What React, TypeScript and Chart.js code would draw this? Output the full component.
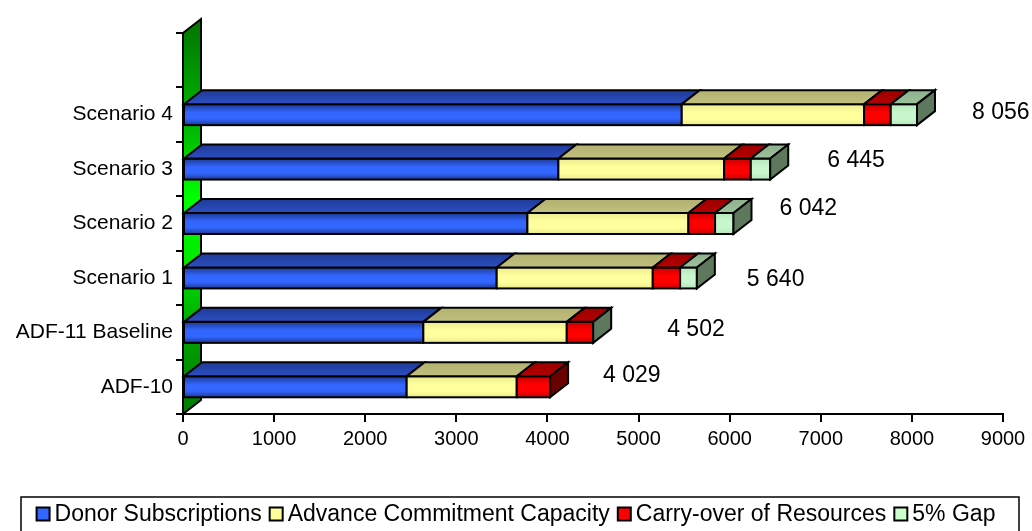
import React, { useEffect, useRef } from 'react';
import { Chart, registerables } from 'chart.js';

Chart.register(...registerables);

// ---------- data (top-to-bottom order of the chart) ----------
const categories = ['Scenario 4', 'Scenario 3', 'Scenario 2', 'Scenario 1', 'ADF-11 Baseline', 'ADF-10'];
const donorSubscriptions = [5474, 4120, 3780, 3443, 2638, 2455];
const advanceCommitmentCapacity = [2001, 1819, 1767, 1713, 1574, 1208];
const carryOverOfResources = [293, 293, 293, 300, 290, 366];
const fivePercentGap: (number | null)[] = [288, 213, 202, 184, 0, null];
const seriesNames = ['Donor Subscriptions', 'Advance Commitment Capacity', 'Carry-over of Resources', '5% Gap'];
const xMin = 0;
const xMax = 9000;
const xStep = 1000;

// ---------- styling ----------
const FONT = '"Liberation Sans", Arial, sans-serif';
const DX = 18;
const DY = 14;
// label nudges (px) for the total labels, relative to the end of each bar / slot centre
const totalLabelNudge: [number, number][] = [[55, -2], [57, -8], [46, -15], [50, 2], [74, -3], [53, -11]];

type Style3D = { edge: string; mid: string; top: [string, string]; side: string; legend: string };
const seriesStyles: Style3D[] = [
  { edge: '#1c3994', mid: '#3366ff', top: ['#1f3b98', '#2c4fc2'], side: '#1a2f7a', legend: '#3366ff' },
  { edge: '#ecea8c', mid: '#ffff9e', top: ['#b3b170', '#c2c07e'], side: '#8f8d55', legend: '#ffff99' },
  { edge: '#c80000', mid: '#ff0000', top: ['#9c0000', '#b40000'], side: '#6b0000', legend: '#ff0000' },
  { edge: '#b5e6bb', mid: '#c9f7cd', top: ['#8cb08c', '#9cc29c'], side: '#5e785e', legend: '#ccffcc' },
];

const seriesData = [donorSubscriptions, advanceCommitmentCapacity, carryOverOfResources, fivePercentGap];

function formatTotal(v: number): string {
  const s = String(Math.round(v));
  return s.replace(/\B(?=(\d{3})+(?!\d))/g, ' ');
}

const wallPlugin = {
  id: 'wall3d',
  beforeDatasetsDraw(chart: any) {
    const { ctx, chartArea } = chart;
    const l = chartArea.left, t = chartArea.top, b = chartArea.bottom;
    ctx.save();
    const g = ctx.createLinearGradient(0, t - DY, 0, b);
    g.addColorStop(0, '#007400');
    g.addColorStop(0.3, '#00c000');
    g.addColorStop(0.45, '#00ff00');
    g.addColorStop(0.6, '#00ec00');
    g.addColorStop(0.8, '#00a000');
    g.addColorStop(1, '#007c00');
    ctx.beginPath();
    ctx.moveTo(l, t);
    ctx.lineTo(l + DX, t - DY);
    ctx.lineTo(l + DX, b - DY);
    ctx.lineTo(l, b);
    ctx.closePath();
    ctx.fillStyle = g;
    ctx.fill();
    ctx.lineWidth = 2;
    ctx.strokeStyle = '#000';
    ctx.lineJoin = 'miter';
    ctx.stroke();
    ctx.restore();
  },
};

const bars3dPlugin = {
  id: 'bars3d',
  afterDatasetsDraw(chart: any) {
    const ctx = chart.ctx;
    const n = chart.data.labels.length;
    ctx.save();
    ctx.lineWidth = 2;
    ctx.strokeStyle = '#000';
    ctx.lineJoin = 'miter';
    for (let j = 0; j < n; j++) {
      const segs: any[] = [];
      chart.data.datasets.forEach((ds: any, di: number) => {
        const v = ds.data[j];
        if (v === null || v === undefined) return;
        const el = chart.getDatasetMeta(di).data[j];
        if (!el) return;
        const p = el.getProps(['x', 'y', 'base', 'height'], true);
        segs.push({
          di,
          x0: Math.min(p.base, p.x),
          x1: Math.max(p.base, p.x),
          top: p.y - p.height / 2,
          bottom: p.y + p.height / 2,
        });
      });
      if (!segs.length) continue;
      // front faces
      segs.forEach((s) => {
        if (s.x1 - s.x0 < 0.5) return;
        const st = seriesStyles[s.di];
        const g = ctx.createLinearGradient(0, s.top, 0, s.bottom);
        g.addColorStop(0, st.edge);
        g.addColorStop(0.4, st.mid);
        g.addColorStop(0.7, st.mid);
        g.addColorStop(1, st.edge);
        ctx.fillStyle = g;
        ctx.fillRect(s.x0, s.top, s.x1 - s.x0, s.bottom - s.top);
        ctx.strokeRect(s.x0, s.top, s.x1 - s.x0, s.bottom - s.top);
      });
      // top faces
      segs.forEach((s) => {
        if (s.x1 - s.x0 < 0.5) return;
        const st = seriesStyles[s.di];
        const g = ctx.createLinearGradient(0, s.top - DY, 0, s.top);
        g.addColorStop(0, st.top[0]);
        g.addColorStop(1, st.top[1]);
        ctx.beginPath();
        ctx.moveTo(s.x0, s.top);
        ctx.lineTo(s.x1, s.top);
        ctx.lineTo(s.x1 + DX, s.top - DY);
        ctx.lineTo(s.x0 + DX, s.top - DY);
        ctx.closePath();
        ctx.fillStyle = g;
        ctx.fill();
        ctx.stroke();
      });
      // right side face of the last segment
      const last = segs[segs.length - 1];
      const ss = seriesStyles[last.di];
      ctx.beginPath();
      ctx.moveTo(last.x1, last.top);
      ctx.lineTo(last.x1 + DX, last.top - DY);
      ctx.lineTo(last.x1 + DX, last.bottom - DY);
      ctx.lineTo(last.x1, last.bottom);
      ctx.closePath();
      ctx.fillStyle = ss.side;
      ctx.fill();
      ctx.stroke();
    }
    ctx.restore();
  },
};

const labelsLegendPlugin = {
  id: 'labelsLegend',
  afterDraw(chart: any) {
    const ctx = chart.ctx;
    const xs = chart.scales.x;
    const ys = chart.scales.y;
    ctx.save();
    // totals
    ctx.font = `23px ${FONT}`;
    ctx.fillStyle = '#000';
    ctx.textAlign = 'left';
    ctx.textBaseline = 'middle';
    categories.forEach((_, i) => {
      const total = seriesData.reduce((acc, arr) => acc + (arr[i] ?? 0), 0);
      const xp = xs.getPixelForValue(total);
      const yp = ys.getPixelForValue(i + 1);
      const [dx, dy] = totalLabelNudge[i];
      ctx.fillText(formatTotal(total), xp + dx, yp + dy);
    });
    // legend
    const W = chart.width;
    ctx.font = `23px ${FONT}`;
    const box = 13;
    const boxGap = 5;
    const itemGap = 8;
    const widths = seriesNames.map((s) => ctx.measureText(s).width);
    const total = widths.reduce((a, w) => a + box + boxGap + w, 0) + itemGap * (seriesNames.length - 1);
    let x = W / 2 - total / 2;
    const cy = 514;
    ctx.lineWidth = 1.5;
    ctx.strokeStyle = '#000';
    ctx.strokeRect(21, 497, 998, 50);
    seriesNames.forEach((name, i) => {
      ctx.fillStyle = seriesStyles[i].legend;
      ctx.fillRect(x, cy - box / 2, box, box);
      ctx.lineWidth = 2;
      ctx.strokeRect(x, cy - box / 2, box, box);
      ctx.fillStyle = '#000';
      ctx.fillText(name, x + box + boxGap, cy + 1);
      x += box + boxGap + widths[i] + itemGap;
    });
    ctx.restore();
  },
};

export default function App() {
  const canvasRef = useRef<HTMLCanvasElement | null>(null);

  useEffect(() => {
    const canvas = canvasRef.current;
    if (!canvas) return;
    const labels = ['', ...categories];
    const datasets = seriesData.map((arr, i) => ({
      label: seriesNames[i],
      data: [null, ...arr],
      backgroundColor: 'rgba(0,0,0,0)',
      borderWidth: 0,
      barPercentage: 0.386,
      categoryPercentage: 1,
      stack: 'total',
    }));
    const chart = new Chart(canvas, {
      type: 'bar',
      data: { labels, datasets },
      options: {
        indexAxis: 'y',
        animation: false,
        responsive: false,
        devicePixelRatio: 1,
        layout: { padding: { left: 0, right: 29, top: 33, bottom: 77 } },
        plugins: { legend: { display: false }, tooltip: { enabled: false } },
        scales: {
          x: {
            type: 'linear',
            stacked: true,
            min: xMin,
            max: xMax,
            afterFit: (s: any) => { s.height = 40; },
            ticks: {
              stepSize: xStep,
              color: '#000',
              font: { family: FONT, size: 20 },
              padding: 5,
              maxRotation: 0,
              callback: (v: any) => String(v),
            },
            grid: { drawOnChartArea: false, drawTicks: true, tickLength: 8, color: '#000', lineWidth: 2 },
            border: { display: true, color: '#000', width: 2 },
          },
          y: {
            type: 'category',
            stacked: true,
            offset: true,
            afterFit: (s: any) => { s.width = 183; },
            ticks: {
              color: '#000',
              font: { family: FONT, size: 21 },
              padding: 3,
              autoSkip: false,
            },
            grid: { offset: true, drawOnChartArea: false, drawTicks: true, tickLength: 7, color: '#000', lineWidth: 2 },
            border: { display: true, color: '#000', width: 2 },
          },
        },
      },
      plugins: [wallPlugin, bars3dPlugin, labelsLegendPlugin],
    } as any);
    return () => chart.destroy();
  }, []);

  return (
    <div style={{ position: 'absolute', left: 0, top: 0, width: 1032, height: 531, background: '#fff' }}>
      <canvas ref={canvasRef} width={1032} height={531} />
    </div>
  );
}
